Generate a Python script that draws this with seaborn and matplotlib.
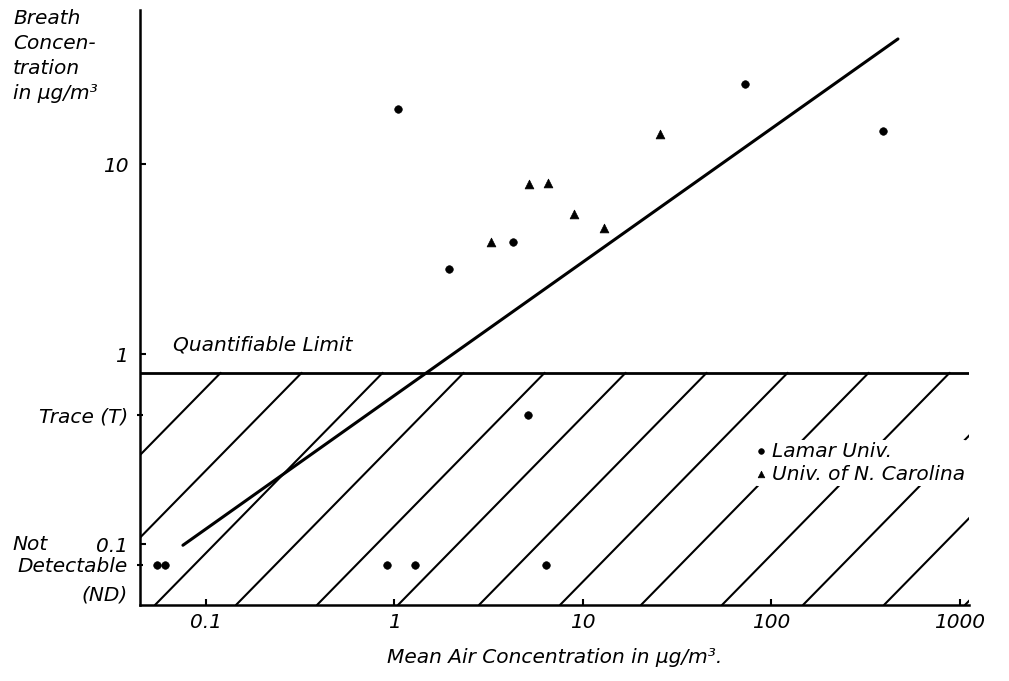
import matplotlib
matplotlib.use("Agg")
import matplotlib.pyplot as plt
import seaborn as sns
import numpy as np
from matplotlib.patches import Rectangle

# levels used on the breath axis
QUANT_LIMIT = 0.8
TRACE = 0.48
ND = 0.078

# Lamar Univ. (circles)
lamar_air = [1.04, 72.3, 391, 4.26, 1.95, 5.1, 0.055, 0.061, 0.91, 1.28, 6.4]
lamar_breath = [19.5, 26.5, 15.0, 3.9, 2.8, TRACE, ND, ND, ND, ND, ND]

# Univ. of N. Carolina (triangles)
unc_air = [3.25, 5.17, 6.52, 8.96, 12.9, 25.6]
unc_breath = [3.9, 7.9, 8.0, 5.5, 4.6, 14.4]

# fitted line
fit_air = [0.0755, 469]
fit_breath = [0.099, 45.7]

x_ticks = [0.1, 1, 10, 100, 1000]
x_labels = ["0.1", "1", "10", "100", "1000"]
y_ticks = [0.1, 1, 10]
y_labels = ["0.1", "1", "10"]
y_minor = [TRACE, ND]
y_minor_labels = ["Trace (T)", "Detectable"]

sns.set_style("ticks")
plt.rcParams["font.family"] = ["DejaVu Sans"]
plt.rcParams["font.style"] = "italic"
plt.rcParams["text.color"] = "black"
plt.rcParams["axes.labelcolor"] = "black"
plt.rcParams["xtick.color"] = "black"
plt.rcParams["ytick.color"] = "black"
FS = 14.5

fig = plt.figure(figsize=(10.09, 6.81), dpi=100)
ax = fig.add_axes([140 / 1009, 1 - 605 / 681, 829 / 1009, 595 / 681])
ax.set_xscale("log")
ax.set_yscale("log")
ax.set_xlim(0.0447, 1117)
ax.set_ylim(0.048, 64.9)

# fitted line and quantifiable limit
sns.lineplot(x=fit_air, y=fit_breath, color="black", lw=2.2, ax=ax)
ax.axhline(QUANT_LIMIT, color="black", lw=2)

# diagonal hatching below the quantifiable limit
w_px = ax.get_window_extent().width
h_px = ax.get_window_extent().height
top_frac = ax.transAxes.inverted().transform(ax.transData.transform((1, QUANT_LIMIT)))[1]
top_px = top_frac * h_px
clip = Rectangle((0, 0), 1, top_frac, transform=ax.transAxes)
spacing, offset, slope = 81, 15, 1.02
for k in range(-4, 12):
    b = offset + spacing * k
    ax.plot([b / w_px, (b + top_px / slope) / w_px], [0, top_frac],
            transform=ax.transAxes, color="black", lw=1.5, clip_path=clip)

# data points
sns.scatterplot(x=lamar_air, y=lamar_breath, marker="o", s=30, color="black",
                edgecolor="black", label="Lamar Univ.", ax=ax, zorder=4)
sns.scatterplot(x=unc_air, y=unc_breath, marker="^", s=40, color="black",
                edgecolor="black", label="Univ. of N. Carolina", ax=ax, zorder=4)

ax.legend(loc="upper left", bbox_to_anchor=(0.741, 0.278), frameon=True,
          facecolor="white", edgecolor="none", framealpha=1, fontsize=FS,
          handlelength=0.5, handletextpad=0.3, borderpad=0.1, labelspacing=0.2,
          borderaxespad=0, markerscale=0.75)

# axes and ticks
sns.despine(ax=ax)
for side in ["left", "bottom"]:
    ax.spines[side].set_linewidth(1.8)
    ax.spines[side].set_color("black")

ax.set_xticks(x_ticks, x_labels, fontsize=FS, fontstyle="italic")
ax.set_xticks([], minor=True)
ax.set_yticks(y_ticks, y_labels, fontsize=FS, fontstyle="italic")
ax.set_yticks(y_minor, y_minor_labels, minor=True, fontsize=FS, fontstyle="italic")
ax.tick_params(axis="x", which="major", direction="in", length=4, width=1.5,
               pad=5.5, colors="black")
ax.tick_params(axis="y", which="major", direction="in", length=4.5, width=1.5,
               pad=8.6, colors="black")
ax.tick_params(axis="y", which="minor", direction="inout", length=5, width=1.5,
               pad=6.1, colors="black")

ax.text(-0.154, 0.1, "Not", transform=ax.get_yaxis_transform(),
        ha="left", va="center", fontsize=FS)
ax.annotate("(ND)", xy=(0, ND), xycoords=ax.get_yaxis_transform(),
            xytext=(-8.6, -21.5), textcoords="offset points",
            ha="right", va="center", fontsize=FS)
ax.text(0.04, 0.437, "Quantifiable Limit", transform=ax.transAxes,
        ha="left", va="center", fontsize=FS)

fig.text(13 / 1009, 1 - 9 / 681, "Breath\nConcen-\ntration\nin μg/m³",
         ha="left", va="top", fontsize=FS, linespacing=1.4)
ax.set_xlabel("Mean Air Concentration in μg/m³.", fontsize=FS, labelpad=12)

fig.savefig("out.png", dpi=100)
